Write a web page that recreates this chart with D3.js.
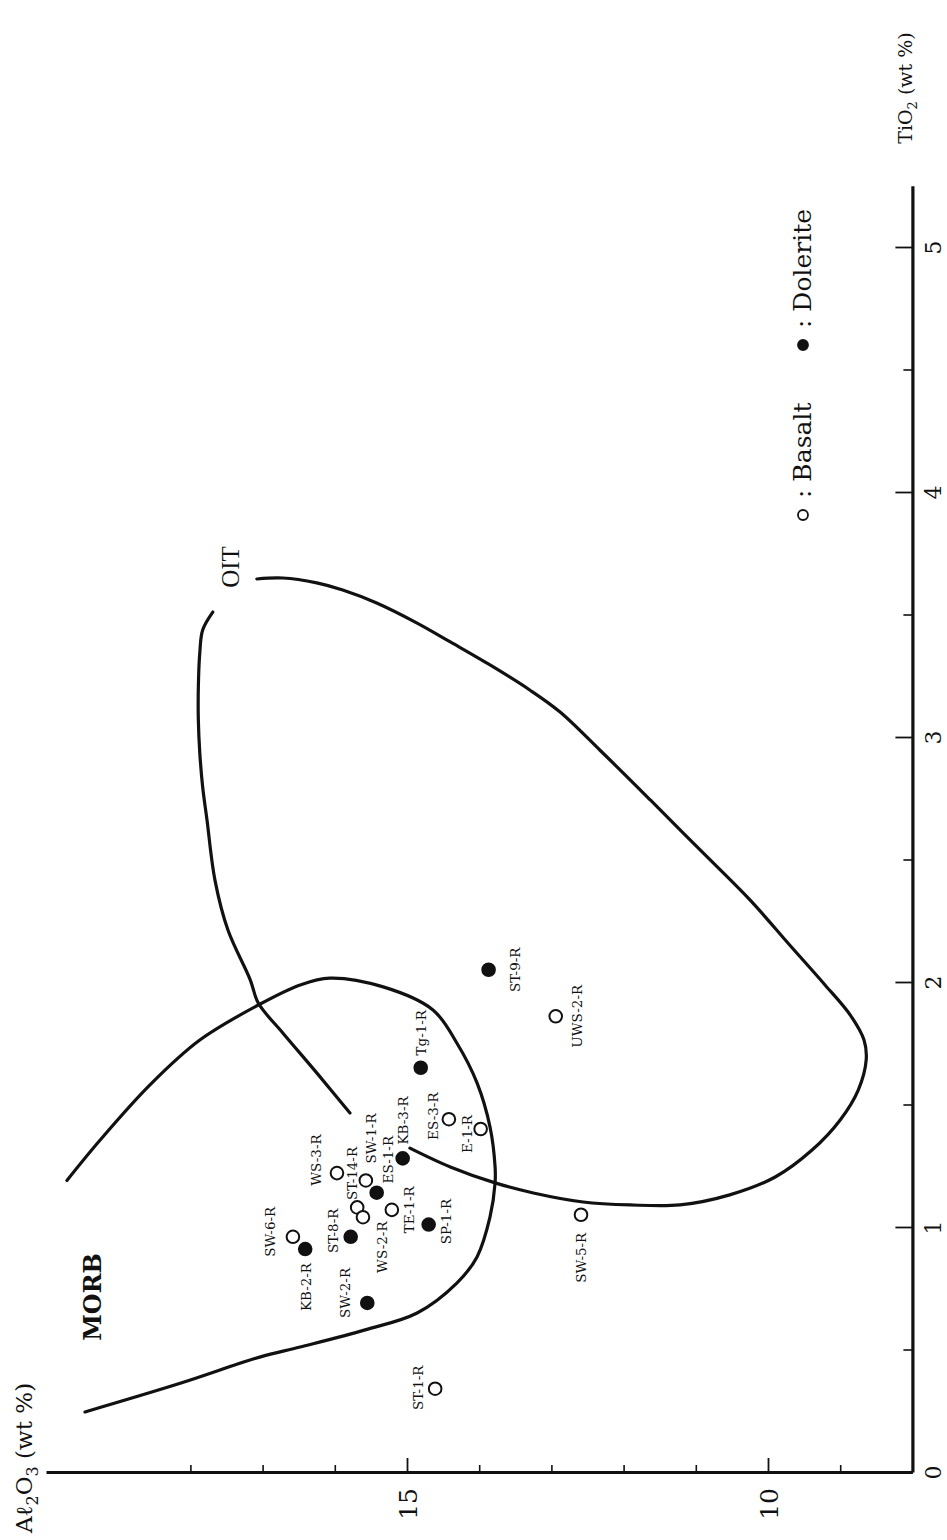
<!DOCTYPE html>
<html>
<head>
<meta charset="utf-8">
<script src="https://cdn.jsdelivr.net/npm/d3@7"></script>
<style>
  html, body { margin: 0; padding: 0; background: #fff; }
  svg { display: block; }
  text { font-family: "DejaVu Serif", "Liberation Serif", serif; fill: #111; }
</style>
</head>
<body>
<svg id="chart" width="947" height="1540"></svg>
<script>
// ---------------- DATA ----------------
const sampleNames = ["ST-9-R","UWS-2-R","Tg-1-R","KB-3-R","ES-3-R","E-1-R","SW-1-R","ES-1-R","WS-3-R","ST-14-R","WS-2-R","TE-1-R","SP-1-R","ST-8-R","SW-6-R","KB-2-R","SW-2-R","SW-5-R","ST-1-R"];
const sampleAl2O3 = [13.87,12.94,14.81,15.06,14.42,13.98,15.57,15.42,15.97,15.69,15.61,15.21,14.70,15.78,16.58,16.41,15.55,12.59,14.61];
const sampleTiO2  = [2.05,1.86,1.65,1.28,1.44,1.40,1.19,1.14,1.22,1.08,1.04,1.07,1.01,0.96,0.96,0.91,0.69,1.05,0.34];
const sampleRock  = ["Dolerite","Basalt","Dolerite","Dolerite","Basalt","Basalt","Basalt","Dolerite","Basalt","Basalt","Basalt","Basalt","Dolerite","Dolerite","Basalt","Dolerite","Dolerite","Basalt","Basalt"];

// MORB field boundary (Al2O3, TiO2)
const morbAl = [19.71,19.25,18.56,17.87,17.06,16.48,16.07,15.33,14.64,14.31,14.03,13.85,13.78,13.78,13.85,14.03,14.31,14.86,15.58,16.48,17.04,18.13,19.46];
const morbTi = [1.19,1.355,1.58,1.763,1.906,1.988,2.016,1.98,1.886,1.751,1.588,1.408,1.245,1.18,1.041,0.878,0.771,0.649,0.58,0.51,0.469,0.363,0.245];

// OIT field boundary: inner arm (up to the label gap) and outer arm
const oitArmAl = [15.79,16.25,16.72,17.06,17.17,17.48,17.66,17.77,17.83,17.87,17.89,17.89,17.87,17.83,17.69];
const oitArmTi = [1.465,1.629,1.792,1.914,2.008,2.212,2.416,2.661,2.796,2.935,3.069,3.204,3.343,3.437,3.51];
const oitOuterAl = [17.08,16.72,16.25,15.89,15.42,14.86,14.40,13.85,13.30,12.88,12.33,11.63,10.94,10.25,9.70,9.21,8.86,8.67,8.64,8.75,9.00,9.39,9.90,10.53,11.22,11.91,12.56,13.25,13.78,14.40,14.96];
const oitOuterTi = [3.645,3.649,3.629,3.60,3.547,3.465,3.388,3.294,3.192,3.102,2.947,2.743,2.539,2.335,2.151,1.988,1.865,1.763,1.682,1.559,1.437,1.314,1.204,1.131,1.09,1.09,1.102,1.139,1.18,1.245,1.322];

// Axes
const alMajorTicks = [10, 15];
const alMinorTicks = [9, 11, 12, 13, 14, 16, 17, 18];
const tiMajorTicks = [0, 1, 2, 3, 4, 5];
const tiMinorTicks = [0.5, 1.5, 2.5, 3.5, 4.5];
const alDomain = [8, 20];
const tiDomain = [0, 5.25];

const fieldLabels = ["MORB", "OIT"];
const legendItems = ["Basalt", "Dolerite"];

// ---------------- LAYOUT (pixels, not data) ----------------
const labelOffset = {
  "ST-9-R":[27,0], "UWS-2-R":[21,0], "Tg-1-R":[0,-35], "KB-3-R":[0,-38],
  "ES-3-R":[-16,-3], "E-1-R":[-14,5], "SW-1-R":[5,-42], "ES-1-R":[11,-33],
  "WS-3-R":[-21,-13], "ST-14-R":[-5,-34], "WS-2-R":[19,30], "TE-1-R":[17,0],
  "SP-1-R":[17,-3], "ST-8-R":[-18,-6], "SW-6-R":[-23,-5], "KB-2-R":[1,38],
  "SW-2-R":[-22,-10], "SW-5-R":[0,43], "ST-1-R":[-17,-1]
};

const svg = d3.select("#chart");
svg.append("rect").attr("width", 947).attr("height", 1540).attr("fill", "#fff");

const x = d3.scaleLinear().domain(alDomain).range([912.4, 46]);
const y = d3.scaleLinear().domain(tiDomain).range([1472, 1472 - 5.25 * 245]);

// ---- Bottom axis (Al2O3) ----
const gxMinor = svg.append("g").attr("transform", `translate(0,${y(0)})`)
  .call(d3.axisBottom(x).tickValues(alMinorTicks).tickSize(-7).tickSizeOuter(0).tickFormat(""));
gxMinor.select(".domain").attr("stroke", "#111").attr("stroke-width", 3);
gxMinor.selectAll(".tick line").attr("stroke", "#111").attr("stroke-width", 1.6);

const gxMajor = svg.append("g").attr("transform", `translate(0,${y(0)})`)
  .call(d3.axisBottom(x).tickValues(alMajorTicks).tickSize(-14).tickSizeOuter(0).tickFormat(d3.format("d")));
gxMajor.select(".domain").remove();
gxMajor.selectAll(".tick line").attr("stroke", "#111").attr("stroke-width", 1.8);
gxMajor.selectAll(".tick text")
  .attr("transform", "rotate(-90)")
  .attr("x", -16).attr("y", 0).attr("dy", "0.36em")
  .attr("text-anchor", "end")
  .style("font-size", "25px").style("font-family", "'DejaVu Serif', serif").attr("fill", "#111");

// ---- Right axis (TiO2) ----
const gyMinor = svg.append("g").attr("transform", `translate(${x(8)},0)`)
  .call(d3.axisRight(y).tickValues(tiMinorTicks).tickSize(-9).tickSizeOuter(0).tickFormat(""));
gyMinor.select(".domain").attr("stroke", "#111").attr("stroke-width", 3.2);
gyMinor.selectAll(".tick line").attr("stroke", "#111").attr("stroke-width", 1.6);

const gyMajor = svg.append("g").attr("transform", `translate(${x(8)},0)`)
  .call(d3.axisRight(y).tickValues(tiMajorTicks).tickSize(-17).tickSizeOuter(0).tickFormat(d3.format("d")));
gyMajor.select(".domain").remove();
gyMajor.selectAll(".tick line").attr("stroke", "#111").attr("stroke-width", 1.8);
gyMajor.selectAll(".tick text")
  .attr("transform", "rotate(-90)")
  .attr("x", 0).attr("y", 29).attr("dy", 0)
  .attr("text-anchor", "middle")
  .style("font-size", "22px").style("font-family", "'DejaVu Serif', serif").attr("fill", "#111");

// ---- Axis titles ----
const tiTitle = svg.append("text")
  .attr("transform", `translate(912,88) rotate(-90)`)
  .attr("text-anchor", "middle").style("font-size", "19px");
tiTitle.append("tspan").text("TiO");
tiTitle.append("tspan").attr("dy", 5).style("font-size", "13px").text("2");
tiTitle.append("tspan").attr("dy", -5).text(" (wt %)");

const alTitle = svg.append("text")
  .attr("transform", `translate(32,1458) rotate(-90)`)
  .attr("text-anchor", "middle").style("font-size", "23px");
alTitle.append("tspan").text("Aℓ");
alTitle.append("tspan").attr("dy", 6).style("font-size", "16px").text("2");
alTitle.append("tspan").attr("dy", -6).text("O");
alTitle.append("tspan").attr("dy", 6).style("font-size", "16px").text("3");
alTitle.append("tspan").attr("dy", -6).text(" (wt %)");

// ---- Field boundaries ----
const line = d3.line().x(d => x(d[0])).y(d => y(d[1])).curve(d3.curveCatmullRom.alpha(0.5));
const morb = morbAl.map((a, i) => [a, morbTi[i]]);
const oitArm = oitArmAl.map((a, i) => [a, oitArmTi[i]]);
const oitOuter = oitOuterAl.map((a, i) => [a, oitOuterTi[i]]);
[morb, oitArm, oitOuter].forEach(p => {
  svg.append("path").datum(p).attr("d", line)
    .attr("fill", "none").attr("stroke", "#111").attr("stroke-width", 3.2)
    .attr("stroke-linecap", "round").attr("stroke-linejoin", "round");
});

// ---- Field labels ----
svg.append("text").attr("transform", `translate(101,1297) rotate(-90)`)
  .attr("text-anchor", "middle").style("font-size", "24px").style("font-weight", "bold")
  .style("font-family", "'DejaVu Serif', serif")
  .text(fieldLabels[0]);
svg.append("text").attr("transform", `translate(239,567) rotate(-90)`)
  .attr("text-anchor", "middle").style("font-size", "25px")
  .style("font-family", "'Liberation Serif', serif")
  .text(fieldLabels[1]);

// ---- Points ----
const samples = sampleNames.map((n, i) => ({name: n, al: sampleAl2O3[i], ti: sampleTiO2[i], rock: sampleRock[i]}));
svg.append("g").selectAll("circle").data(samples).join("circle")
  .attr("cx", d => x(d.al)).attr("cy", d => y(d.ti)).attr("r", 6.3)
  .attr("fill", d => d.rock === "Dolerite" ? "#111" : "#fff")
  .attr("stroke", "#111").attr("stroke-width", 2);

svg.append("g").selectAll("text").data(samples).join("text")
  .attr("transform", d => {
    const o = labelOffset[d.name];
    return `translate(${x(d.al) + o[0]},${y(d.ti) + o[1]}) rotate(-90)`;
  })
  .attr("text-anchor", "middle").attr("dy", "0.36em")
  .style("font-size", "13.5px")
  .text(d => d.name);

// ---- Legend ----
const legendY = [515, 345];
legendItems.forEach((item, i) => {
  svg.append("circle").attr("cx", 803).attr("cy", legendY[i]).attr("r", 5)
    .attr("fill", item === "Dolerite" ? "#111" : "#fff").attr("stroke", "#111").attr("stroke-width", 1.8);
  svg.append("text").attr("transform", `translate(811,${legendY[i] - 17}) rotate(-90)`)
    .attr("text-anchor", "start").style("font-size", "25px")
    .text(": " + item);
});
</script>
</body>
</html>
